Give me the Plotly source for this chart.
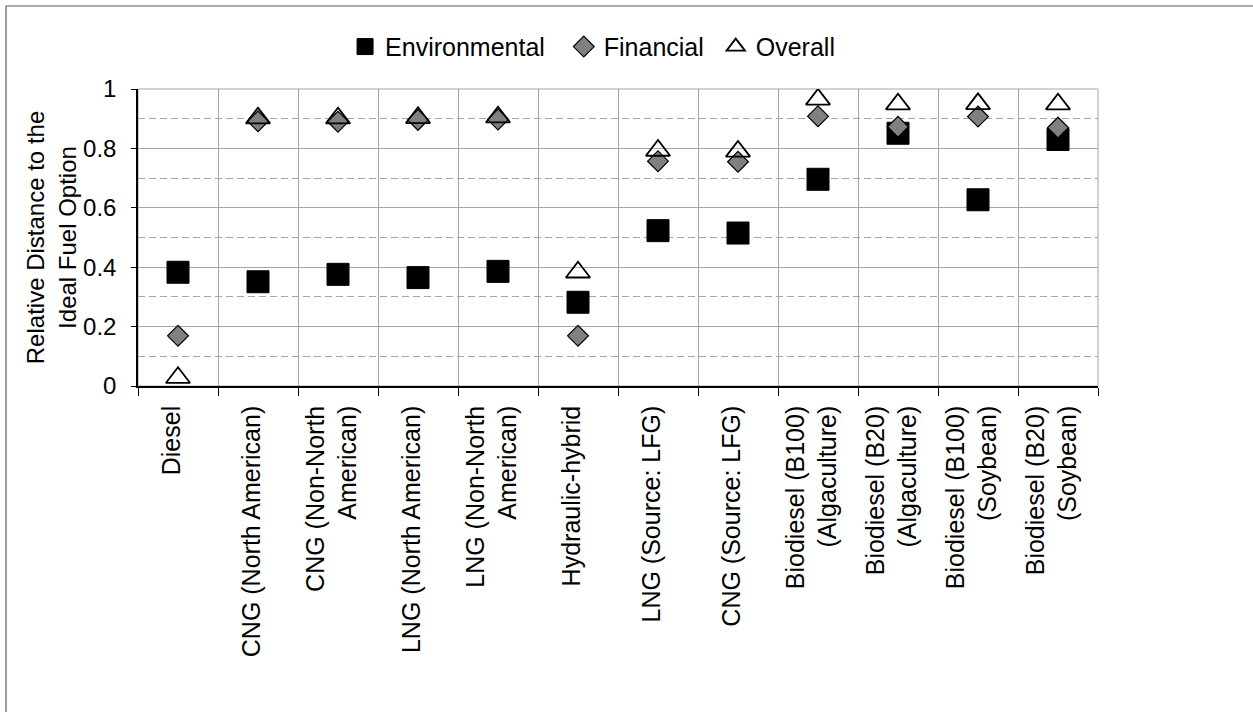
import plotly.graph_objects as go

categories = [
    "Diesel",
    "CNG (North American)",
    "CNG (Non-North<br>American)",
    "LNG (North American)",
    "LNG (Non-North<br>American)",
    "Hydraulic-hybrid",
    "LNG (Source: LFG)",
    "CNG (Source: LFG)",
    "Biodiesel (B100)<br>(Algaculture)",
    "Biodiesel (B20)<br>(Algaculture)",
    "Biodiesel (B100)<br>(Soybean)",
    "Biodiesel (B20)<br>(Soybean)",
]
environmental = [0.383, 0.351, 0.376, 0.365, 0.386, 0.282, 0.523, 0.515, 0.696, 0.851, 0.627, 0.830]
financial = [0.169, 0.891, 0.890, 0.896, 0.897, 0.169, 0.757, 0.755, 0.908, 0.873, 0.907, 0.870]
overall = [0.028, 0.902, 0.902, 0.903, 0.905, 0.383, 0.793, 0.790, 0.965, 0.949, 0.950, 0.949]

series_names = ["Environmental", "Financial", "Overall"]
y_ticks = [0, 0.2, 0.4, 0.6, 0.8, 1]
y_tick_text = ["0", "0.2", "0.4", "0.6", "0.8", "1"]

FONT = "Arial, Liberation Sans, Helvetica, sans-serif"
GRID = "#a6a6a6"
PAD = "\u00a0"

fig = go.Figure()
fig.add_trace(go.Scatter(
    x=categories, y=environmental, mode="markers", name=series_names[0] + PAD + PAD,
    marker=dict(symbol="square", size=22, color="black", line=dict(color="black", width=1)),
))
fig.add_trace(go.Scatter(
    x=categories, y=financial, mode="markers", name=series_names[1] + PAD,
    marker=dict(symbol="diamond", size=16, color="#808080", line=dict(color="black", width=1.2)),
))
fig.add_trace(go.Scatter(
    x=categories, y=overall, mode="markers", name=series_names[2],
    marker=dict(symbol="triangle-up-open", size=21, color="black", line=dict(color="black", width=1.8)),
))

fig.update_layout(
    width=1253, height=712,
    margin=dict(l=138, r=155, t=89, b=326, autoexpand=False),
    paper_bgcolor="white", plot_bgcolor="white",
    font=dict(family=FONT, size=24, color="black"),
    showlegend=True,
    legend=dict(
        orientation="h", x=0.4735, xanchor="center", y=1.142, yanchor="middle",
        font=dict(size=25), itemsizing="trace", itemwidth=30,
        tracegroupgap=0, bgcolor="rgba(0,0,0,0)",
    ),
    shapes=[
        dict(type="rect", xref="paper", yref="paper", x0=0, x1=1, y0=0, y1=1,
             line=dict(color=GRID, width=1), layer="below"),
        dict(type="line", xref="paper", yref="paper", x0=-0.1375, x1=1.2, y0=1.2795, y1=1.2795,
             line=dict(color="#595959", width=1.2)),
        dict(type="line", xref="paper", yref="paper", x0=-0.1375, x1=-0.1375, y0=-1.2, y1=1.2795,
             line=dict(color="#595959", width=1.2)),
    ],
)

fig.update_xaxes(
    type="category", categoryorder="array", categoryarray=categories,
    tickson="boundaries", ticks="outside", ticklen=8, tickcolor="black",
    tickangle=-90, tickfont=dict(size=25), ticklabelstandoff=8, ticklabelshift=-6,
    showgrid=True, gridcolor=GRID, gridwidth=1,
    showline=True, linecolor="black", linewidth=1.5,
    range=[-0.5, len(categories) - 0.5], zeroline=False,
)
fig.update_yaxes(
    range=[0, 1], tickvals=y_ticks, ticktext=y_tick_text,
    ticks="outside", ticklen=5, tickcolor="black", ticklabelstandoff=10,
    tickfont=dict(size=24),
    showgrid=True, gridcolor=GRID, gridwidth=1,
    minor=dict(dtick=0.1, showgrid=True, gridcolor=GRID, griddash="7px,4px", gridwidth=1, ticks=""),
    showline=True, linecolor="black", linewidth=1.5, zeroline=False,
    title=dict(text="Relative Distance to the<br>Ideal Fuel Option", font=dict(size=24), standoff=0),
)

fig.write_html(
    "out.html",
    config={"displayModeBar": False},
    post_script="document.body.style.margin='0';document.body.style.overflow='hidden';",
)
